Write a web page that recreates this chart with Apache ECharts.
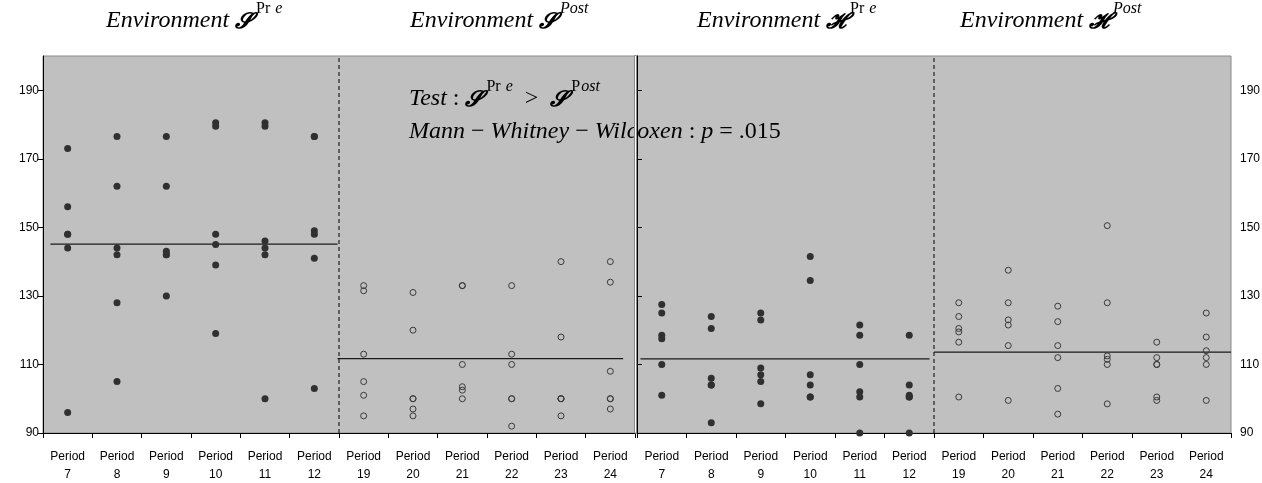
<!DOCTYPE html>
<html>
<head>
<meta charset="utf-8">
<script src="https://cdn.jsdelivr.net/npm/echarts@6/dist/echarts.min.js"></script>
<style>
html,body{margin:0;padding:0;background:#fff;}
#chart{width:1262px;height:483px;}
</style>
</head>
<body>
<div id="chart"></div>
<script>
// ---- Data ----
const periodsS = ['Period 7','Period 8','Period 9','Period 10','Period 11','Period 12',
                  'Period 19','Period 20','Period 21','Period 22','Period 23','Period 24'];
const periodsH = periodsS.slice();
const yTicks = [90, 110, 130, 150, 170, 190];

// Environment S, Pre (periods 7-12)
const sPre = [
  [173, 156, 148, 148, 144, 96],
  [176.5, 162, 144, 142, 128, 105],
  [176.5, 162, 143, 142, 142, 130],
  [180.5, 179.5, 148, 145, 139, 119],
  [180.5, 179.5, 146, 144, 142, 100],
  [176.5, 176.5, 149, 148, 141, 103]
];
// Environment S, Post (periods 19-24)
const sPost = [
  [133, 131.5, 113, 105, 101, 95],
  [131, 120, 100, 100, 97, 95],
  [133, 133, 110, 103.5, 102.5, 100],
  [133, 113, 110, 100, 100, 92],
  [140, 118, 100, 100, 100, 95],
  [140, 134, 108, 100, 100, 97]
];
// Environment H, Pre (periods 7-12)
const hPre = [
  [127.5, 125, 118.5, 117.5, 110, 101],
  [124, 120.5, 106, 104, 104, 93],
  [125, 123, 109, 107, 105, 98.5],
  [141.5, 134.5, 107, 104, 100.5, 100.5],
  [121.5, 118.5, 110, 102, 100.5, 90],
  [118.5, 104, 101, 100.5, 100.5, 90]
];
// Environment H, Post (periods 19-24)
const hPost = [
  [128, 124, 120.5, 119.5, 116.5, 100.5],
  [137.5, 128, 123, 121.5, 115.5, 99.5],
  [127, 122.5, 115.5, 112, 103, 95.5],
  [150.5, 128, 112.5, 111.5, 110, 98.5],
  [116.5, 112, 110, 110, 100.5, 99.5],
  [125, 118, 114, 112, 110, 99.5]
];
// Mean lines: [value, fromCategoryEdge, toCategoryEdge]
const meanSPre = [145.1, 0.15, 5.97];
const meanSPost = [111.7, 5.97, 11.76];
const meanHPre = [111.6, 0.07, 5.91];
const meanHPost = [113.6, 6.0, 12];
const separatorAt = 6;

// ---- Build ----
function pts(groups, offset) {
  const out = [];
  groups.forEach((g, i) => g.forEach(v => out.push([i + offset, v])));
  return out;
}
const chart = echarts.init(document.getElementById('chart'), null, {renderer: 'canvas'});
const sans = 'Liberation Sans';
const serif = 'Liberation Serif';

function xCat(grid, data) {
  return {
    type: 'category', gridIndex: grid, data: data, boundaryGap: true,
    axisLine: {show: true, lineStyle: {color: '#000', width: 1}},
    axisTick: {show: true, length: 5, inside: false, lineStyle: {color: '#000'}},
    axisLabel: {interval: 0, color: '#000', fontFamily: sans, fontSize: 12, lineHeight: 18, margin: 15,
      formatter: v => v.replace(' ', '\n')},
    splitLine: {show: false}
  };
}
function xVal(grid) {
  return {type: 'value', gridIndex: grid, min: 0, max: 12, show: false, splitLine: {show: false}};
}
function yAx(grid, pos, margin) {
  return {
    type: 'value', gridIndex: grid, min: 90, max: 200, interval: 20, position: pos,
    axisLine: {show: true, lineStyle: {color: '#000', width: 1}},
    axisTick: {show: true, length: 5, customValues: yTicks, lineStyle: {color: '#000'}},
    axisLabel: {show: true, customValues: yTicks, color: '#000', fontFamily: sans, fontSize: 12, margin: margin},
    splitLine: {show: false}
  };
}
function filled(xi, yi, data) {
  return {type: 'scatter', xAxisIndex: xi, yAxisIndex: yi, data: data, symbol: 'circle', symbolSize: 7,
    itemStyle: {color: '#303030', opacity: 1}, silent: true, z: 5};
}
function hollow(xi, yi, data) {
  return {type: 'scatter', xAxisIndex: xi, yAxisIndex: yi, data: data, symbol: 'circle', symbolSize: 6,
    itemStyle: {color: 'rgba(0,0,0,0)', borderColor: '#3a3a3a', borderWidth: 1, opacity: 1}, silent: true, z: 5};
}
function mean(xi, yi, m) {
  return {type: 'line', xAxisIndex: xi, yAxisIndex: yi, data: [[m[1], m[0]], [m[2], m[0]]],
    symbol: 'none', lineStyle: {color: '#1a1a1a', width: 1.3}, silent: true, z: 4, animation: false};
}
function sep(xi, yi) {
  return {type: 'line', xAxisIndex: xi, yAxisIndex: yi, data: [[separatorAt, 90], [separatorAt, 200]],
    symbol: 'none', lineStyle: {color: '#000', width: 1, type: [4, 3]}, silent: true, z: 3, animation: false};
}

const mainSize = 24, supSize = 16;
const rich = {
  i: {fontFamily: serif, fontStyle: 'italic', fontSize: mainSize, lineHeight: mainSize, verticalAlign: 'bottom', color: '#000'},
  n: {fontFamily: serif, fontSize: mainSize, lineHeight: mainSize, verticalAlign: 'bottom', color: '#000'},
  s: {fontFamily: 'DejaVu Serif', fontWeight: 'bold', fontStyle: 'italic', fontSize: 22, lineHeight: mainSize, verticalAlign: 'bottom', color: '#000'},
  su: {fontFamily: serif, fontSize: supSize, lineHeight: 32, padding: [0, 0, 0, 4], verticalAlign: 'top', color: '#000'},
  sui: {fontFamily: serif, fontStyle: 'italic', fontSize: supSize, lineHeight: 32, padding: [0, 0, 0, 1], verticalAlign: 'top', color: '#000'},
  sui2: {fontFamily: serif, fontStyle: 'italic', fontSize: supSize, lineHeight: 32, padding: [0, 0, 0, 4], verticalAlign: 'top', color: '#000'}
};
function txt(x, y, text, z) {
  return {type: 'text', x: x, y: y, z: z || 50, silent: true,
    style: {text: text, rich: rich, verticalAlign: 'top', align: 'left', fill: '#000'}};
}

const option = {
  animation: false,
  backgroundColor: '#fff',
  grid: [
    {left: 43, top: 56, width: 592, height: 377, show: true, backgroundColor: '#c0c0c0', borderColor: '#8a8a8a', borderWidth: 1, containLabel: false, outerBoundsMode: 'none'},
    {left: 637, top: 56, width: 594, height: 377, show: true, backgroundColor: '#c0c0c0', borderColor: '#8a8a8a', borderWidth: 1, containLabel: false, outerBoundsMode: 'none'}
  ],
  xAxis: [xCat(0, periodsS), xCat(1, periodsH), xVal(0), xVal(1)],
  yAxis: [yAx(0, 'left', 4), yAx(1, 'right', 9)],
  series: [
    sep(2, 0), sep(3, 1),
    mean(2, 0, meanSPre), mean(2, 0, meanSPost), mean(3, 1, meanHPre), mean(3, 1, meanHPost),
    filled(0, 0, pts(sPre, 0)), hollow(0, 0, pts(sPost, 6)),
    filled(1, 1, pts(hPre, 0)), hollow(1, 1, pts(hPost, 6))
  ],
  graphic: [
    txt(106, 1, '{i|Environment }{s|𝓢}{su|Pr}{sui| e}'),
    txt(410, 1, '{i|Environment }{s|𝓢}{sui2|Post}'),
    txt(697, 1, '{i|Environment }{s|𝓗}{su|Pr}{sui| e}'),
    txt(960, 1, '{i|Environment }{s|𝓗}{sui2|Post}'),
    txt(409, 79, '{i|Test}{n| : }{s|𝓢}{su|Pr}{sui| e}{n|  >  }{s|𝓢}{su|P}{sui|ost}', 40),
    txt(409, 120, '{i|Mann}{n| − }{i|Whitney}{n| − }{i|Wilcoxen}{n| : }{i|p}{n| = .015}', 40),
    {type: 'rect', z: 60, silent: true, shape: {x: 634.5, y: 55.5, width: 2, height: 377.5},
      style: {fill: '#ffffff', stroke: '#8a8a8a', lineWidth: 1}}
  ]
};
chart.setOption(option);
</script>
</body>
</html>
